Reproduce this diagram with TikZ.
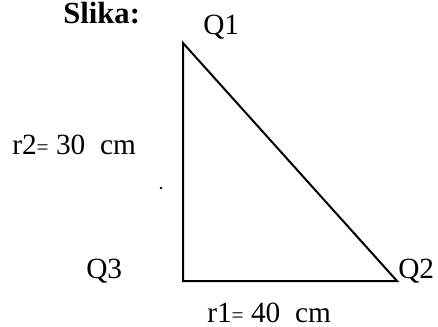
\documentclass[tikz,border=0pt]{standalone}
\usepackage{fontspec}
\setmainfont{Liberation Serif}
\usetikzlibrary{positioning,calc}
\newcommand{\smeq}{{\fontsize{16}{16}\selectfont=}}

\begin{document}
\begin{tikzpicture}[
    side/.style={line width=1.5pt},
    lbl/.style={anchor=base west, inner sep=0pt, font=\fontsize{22}{24}\selectfont},
    title/.style={anchor=base west, inner sep=0pt, font=\fontsize{23}{26}\selectfont\bfseries},
    x=0.75pt, y=-0.75pt
]
\useasboundingbox (0,0) rectangle (438,327);

% --- Vertices ---
\coordinate (Q1) at (183,43);
\coordinate (Q3) at (183,281);
\coordinate (Q2) at (397,281);

% --- Triangle ---
\draw[side] (Q1) -- (Q3) -- (Q2) -- cycle;

% --- Labels ---
\node[title] (slika) at (63,23.5) {Slika:};
\node[lbl] (lq1) at (203,35) {Q1};
\node[lbl] (lq3) at (86,278) {Q3};
\node[lbl] (lq2) at (398,278) {Q2};
\node[lbl] (r2) at (12,155) {r2\smeq\ 30\ \ cm};
\node[lbl] (r1) at (207,322) {r1\smeq\ 40\ \ cm};

% stray dot
\fill (161,188) circle (1pt);

\end{tikzpicture}
\end{document}
